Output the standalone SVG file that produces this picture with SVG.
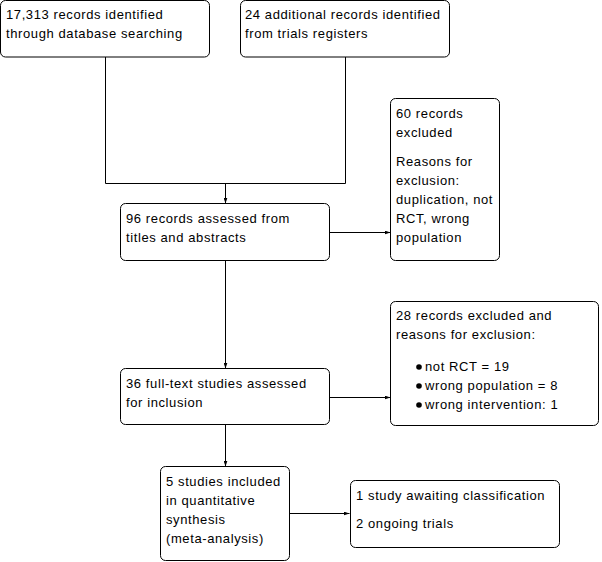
<svg xmlns="http://www.w3.org/2000/svg" width="602" height="562" viewBox="0 0 602 562">
<defs>
<marker id="ah" viewBox="0 0 6 4" refX="6" refY="2" markerWidth="6" markerHeight="4" markerUnits="userSpaceOnUse" orient="auto">
<path d="M0,0 L6,2 L0,4 Z" fill="#000"/>
</marker>
</defs>
<style>
.box{fill:#fff;stroke:#000;stroke-width:1}
.t{font-family:"Liberation Sans",Arial,sans-serif;font-size:13px;letter-spacing:0.6px;fill:#000}
.c{fill:none;stroke:#000;stroke-width:1}
</style>
<rect width="602" height="562" fill="#fff"/>
<g id="connectors">
<path class="c" d="M105.5,57 V183.5 H345.5 V57"/>
<path class="c" d="M225.5,183.5 V203.5" marker-end="url(#ah)"/>
<path class="c" d="M329,232.5 H390.5" marker-end="url(#ah)"/>
<path class="c" d="M225.5,260.5 V368.5" marker-end="url(#ah)"/>
<path class="c" d="M329,397.5 H390.5" marker-end="url(#ah)"/>
<path class="c" d="M225.5,424.5 V466.5" marker-end="url(#ah)"/>
<path class="c" d="M289,513.5 H349.5" marker-end="url(#ah)"/>
</g>
<g id="n1">
<rect class="box" x="0.5" y="0.5" width="209" height="56.5" rx="5"/>
<text class="t" x="6" y="19">17,313 records identified</text>
<text class="t" x="6" y="38">through database searching</text>
</g>
<g id="n2">
<rect class="box" x="240.5" y="0.5" width="209" height="56.5" rx="5"/>
<text class="t" x="245" y="19">24 additional records identified</text>
<text class="t" x="245" y="38">from trials registers</text>
</g>
<g id="n3">
<rect class="box" x="120.5" y="203.5" width="209" height="57" rx="5"/>
<text class="t" x="126" y="223">96 records assessed from</text>
<text class="t" x="126" y="242">titles and abstracts</text>
</g>
<g id="n4">
<rect class="box" x="390.5" y="98.5" width="109" height="162" rx="5"/>
<text class="t" x="396" y="118">60 records</text>
<text class="t" x="396" y="137">excluded</text>
<text class="t" x="396" y="166">Reasons for</text>
<text class="t" x="396" y="185">exclusion:</text>
<text class="t" x="396" y="204">duplication, not</text>
<text class="t" x="396" y="223">RCT, wrong</text>
<text class="t" x="396" y="242">population</text>
</g>
<g id="n5">
<rect class="box" x="120.5" y="368.5" width="209" height="56" rx="5"/>
<text class="t" x="126" y="388">36 full-text studies assessed</text>
<text class="t" x="126" y="407">for inclusion</text>
</g>
<g id="n6">
<rect class="box" x="390.5" y="301.5" width="208" height="124" rx="5"/>
<text class="t" x="396" y="320">28 records excluded and</text>
<text class="t" x="396" y="339">reasons for exclusion:</text>
<circle cx="419" cy="367" r="2.8"/>
<circle cx="419" cy="386" r="2.8"/>
<circle cx="419" cy="405" r="2.8"/>
<text class="t" x="425" y="371">not RCT = 19</text>
<text class="t" x="425" y="390">wrong population = 8</text>
<text class="t" x="425" y="409">wrong intervention: 1</text>
</g>
<g id="n7">
<rect class="box" x="160.5" y="466.5" width="129" height="94" rx="5"/>
<text class="t" x="166" y="486">5 studies included</text>
<text class="t" x="166" y="505">in quantitative</text>
<text class="t" x="166" y="524">synthesis</text>
<text class="t" x="166" y="543">(meta-analysis)</text>
</g>
<g id="n8">
<rect class="box" x="350.5" y="480.5" width="209" height="67" rx="5"/>
<text class="t" x="356" y="500">1 study awaiting classification</text>
<text class="t" x="356" y="528">2 ongoing trials</text>
</g>
</svg>
